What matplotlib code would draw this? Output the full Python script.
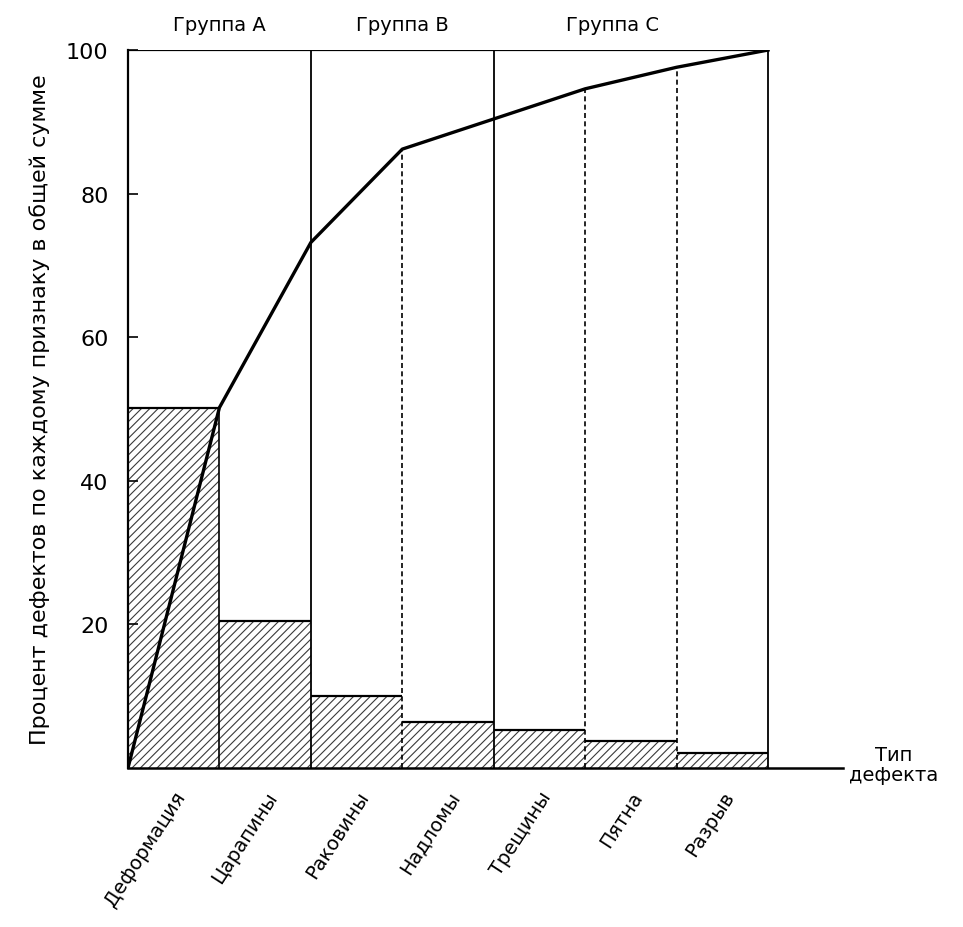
import numpy as np
import matplotlib.pyplot as plt

defects = ['Деформация', 'Царапины', 'Раковины', 'Надломы', 'Трещины', 'Пятна', 'Разрыв']
percent = [50.2, 20.5, 10.0, 6.4, 5.3, 3.8, 2.1]
cumulative = [0, 50.2, 73.2, 86.2, 90.4, 94.6, 97.6, 100]
groups = ['Группа А', 'Группа В', 'Группа С']
groupEdges = [0, 2, 4, 7]
groupLabelX = [1.0, 3.0, 5.3]
yTicks = [20, 40, 60, 80, 100]

plt.rcParams['font.family'] = ['DejaVu Sans']
plt.rcParams['hatch.linewidth'] = 0.8


def drawBars(ax):
    x = np.arange(len(percent))
    ax.bar(x, percent, width=1.0, align='edge', facecolor='white',
           edgecolor='#3a3a3a', hatch='////', linewidth=0, zorder=1)
    # bar tops
    ax.hlines(percent, x, x + 1, colors='black', linewidth=1.6, zorder=3)


def drawEdges(ax):
    # solid lines for group borders, dashed inside groups
    for i in range(1, len(percent)):
        if i in groupEdges:
            continue
        style = '-' if i == 1 else (0, (3, 2))
        ax.vlines(i, 0, cumulative[i], colors='black', linewidth=1.2,
                  linestyles=style, zorder=3)
    for e in groupEdges[1:]:
        ax.vlines(e, 0, 100, colors='black', linewidth=1.3, zorder=3)
    ax.hlines(100, 0, groupEdges[-1], colors='black', linewidth=1.6, zorder=3)


def drawCumulative(ax):
    xs = np.arange(len(cumulative))
    ax.plot(xs, cumulative, color='black', linewidth=2.4, zorder=4,
            solid_joinstyle='round')


fig = plt.figure(figsize=(9.63, 9.28), dpi=100)
ax = fig.add_axes([0.1329, 0.1713, 0.7425, 0.7737])

drawBars(ax)
drawEdges(ax)
drawCumulative(ax)

ax.set_xlim(0, 7.82)
ax.set_ylim(0, 100)
ax.spines['top'].set_visible(False)
ax.spines['right'].set_visible(False)
ax.spines['left'].set_linewidth(1.6)
ax.spines['bottom'].set_linewidth(1.8)

ax.set_yticks(yTicks)
ax.tick_params(axis='y', direction='in', length=7, width=1.2, pad=14, labelsize=16)
ax.set_xticks(np.arange(len(defects)) + 0.5)
ax.set_xticklabels(defects, rotation=57, ha='right', rotation_mode='anchor')
ax.tick_params(axis='x', length=0, pad=14, labelsize=14)

for name, gx in zip(groups, groupLabelX):
    ax.text(gx, 103.5, name, ha='center', va='center', fontsize=14)

ax.text(8.37, 0.5, 'Тип\nдефекта', ha='center', va='center', fontsize=14,
        linespacing=1.1)

fig.text(40 / 963, (928 - 410) / 928,
         'Процент дефектов по каждому признаку в общей сумме',
         rotation=90, ha='center', va='center', fontsize=16)

fig.savefig('out.png', dpi=100)
